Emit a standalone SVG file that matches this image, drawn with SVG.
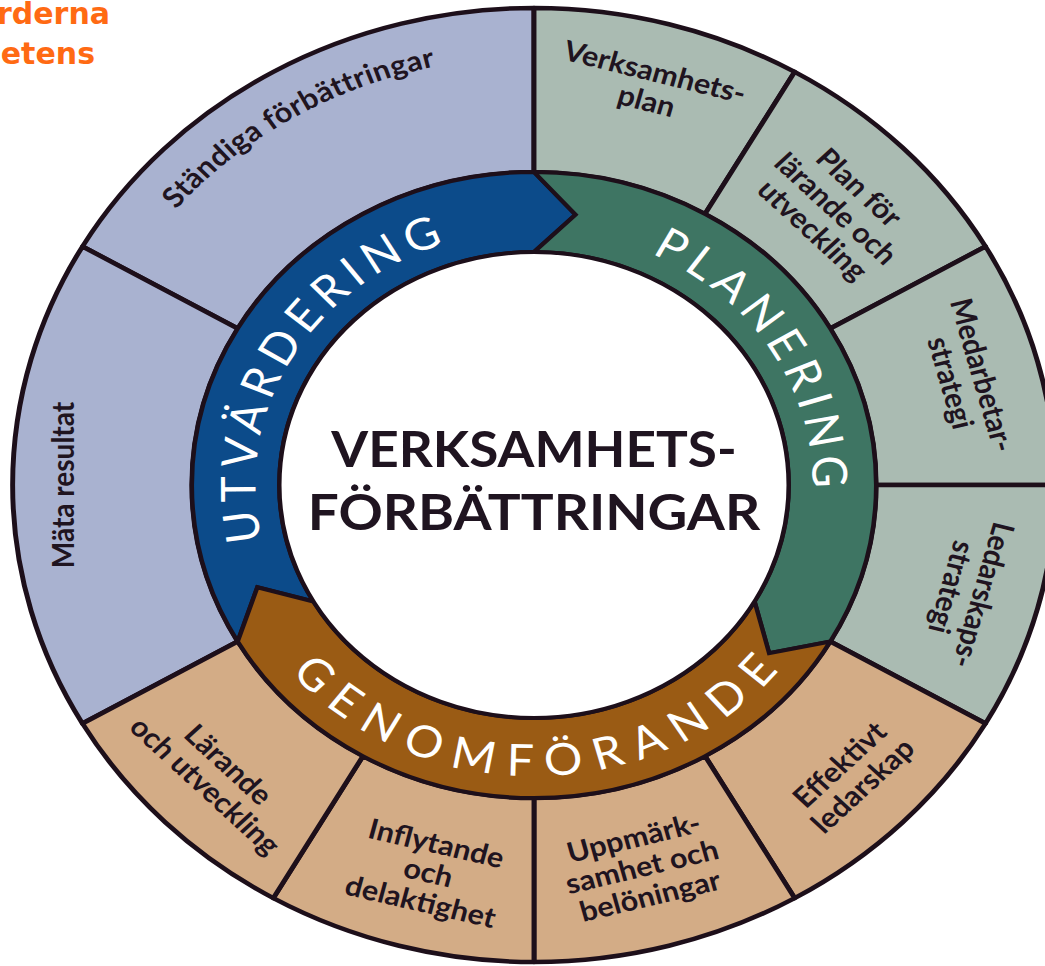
<svg xmlns="http://www.w3.org/2000/svg" width="1045" height="966" viewBox="0 0 1045 966">
<style>
.sb{fill:#A9B2D0}
.sg{fill:#AABBB2}
.st{fill:#D3AC86}
.seg{stroke:#1D0F1A;stroke-width:4.5;stroke-linejoin:round}
.band{stroke:#1D0F1A;stroke-width:4;stroke-linejoin:miter}
.lbl{font-family:Lato,"Open Sans",sans-serif;font-weight:700;font-size:28px;fill:#1F1420;text-anchor:middle}
.ring{font-family:Lato,"Open Sans",sans-serif;font-weight:400;font-size:44px;fill:#FFFFFF}
.ctr{font-family:Lato,"Open Sans",sans-serif;font-weight:700;font-size:50px;fill:#1F1420;text-anchor:middle}
.ttl{font-family:"DejaVu Sans",Verdana,sans-serif;font-weight:700;font-size:30px;fill:#FF6A13;text-anchor:end}
</style>
<defs>
<path id="pStand" d="M -415.3 -103.5 A 428 428 0 0 1 103.5 -415.3"/>
<path id="pUtv" d="M -195.3 163.9 A 255 255 0 0 1 44.3 -251.1"/>
<path id="pPlan" d="M -50.8 -249.9 A 255 255 0 0 1 199.6 158.7"/>
<path id="pGen" d="M -279.0 82.6 A 291 291 0 0 0 283.0 67.9"/>
</defs>
<rect width="1045" height="966" fill="#FFFFFF"/>
<g id="title">
<text class="ttl" x="110" y="24">rderna</text>
<text class="ttl" x="95" y="64">etens</text>
</g>
<g id="wheel" transform="translate(534,485) scale(1.093,1)">
<g id="seg-standiga">
<path class="seg sb" d="M -413.1 -238.5 A 477 477 0 0 1 0 -477 L 0 -313 A 313 313 0 0 0 -271.1 -156.5 Z"/>
<text class="lbl" letter-spacing="0.4"><textPath href="#pStand" startOffset="50%" text-anchor="middle">Ständiga förbättringar</textPath></text>
</g>
<g id="seg-mata">
<path class="seg sb" d="M -413.1 238.5 A 477 477 0 0 1 -413.1 -238.5 L -271.1 -156.5 A 313 313 0 0 0 -271.1 156.5 Z"/>
<text class="lbl" transform="translate(-430,0) rotate(-90)" y="9.2">Mäta resultat</text>
</g>
<g id="seg-verksamhetsplan">
<path class="seg sg" d="M 0 -477 A 477 477 0 0 1 238.5 -413.1 L 156.5 -271.1 A 313 313 0 0 0 0 -313 Z"/>
<text class="lbl" transform="translate(106.6,-398) rotate(15)"><tspan x="0" y="-5.8">Verksamhets-</tspan><tspan x="0" y="24.2">plan</tspan></text>
</g>
<g id="seg-planforlarande">
<path class="seg sg" d="M 238.5 -413.1 A 477 477 0 0 1 413.1 -238.5 L 271.1 -156.5 A 313 313 0 0 0 156.5 -271.1 Z"/>
<text class="lbl" transform="translate(275.8,-275.8) rotate(45)"><tspan x="0" y="-20.8">Plan för</tspan><tspan x="0" y="9.2">lärande och</tspan><tspan x="0" y="39.2">utveckling</tspan></text>
</g>
<g id="seg-medarbetar">
<path class="seg sg" d="M 413.1 -238.5 A 477 477 0 0 1 477 0 L 313 0 A 313 313 0 0 0 271.1 -156.5 Z"/>
<text class="lbl" transform="translate(395.1,-105.9) rotate(75)"><tspan x="0" y="-5.8">Medarbetar-</tspan><tspan x="0" y="24.2">strategi</tspan></text>
</g>
<g id="seg-ledarskaps">
<path class="seg sg" d="M 477 0 A 477 477 0 0 1 413.1 238.5 L 271.1 156.5 A 313 313 0 0 0 313 0 Z"/>
<text class="lbl" transform="translate(396,106.1) rotate(105)"><tspan x="0" y="-5.8">Ledarskaps-</tspan><tspan x="0" y="24.2">strategi</tspan></text>
</g>
<g id="seg-effektivt">
<path class="seg st" d="M 413.1 238.5 A 477 477 0 0 1 238.5 413.1 L 156.5 271.1 A 313 313 0 0 0 271.1 156.5 Z"/>
<text class="lbl" transform="translate(290.6,290.6) rotate(-45)"><tspan x="0" y="-5.8">Effektivt</tspan><tspan x="0" y="24.2">ledarskap</tspan></text>
</g>
<g id="seg-uppmarksamhet">
<path class="seg st" d="M 238.5 413.1 A 477 477 0 0 1 0 477 L 0 313 A 313 313 0 0 0 156.5 271.1 Z"/>
<text class="lbl" transform="translate(98.9,382.4) rotate(-14.5)"><tspan x="0" y="-20.8">Uppmärk-</tspan><tspan x="0" y="9.2">samhet och</tspan><tspan x="0" y="39.2">belöningar</tspan></text>
</g>
<g id="seg-inflytande">
<path class="seg st" d="M 0 477 A 477 477 0 0 1 -238.5 413.1 L -156.5 271.1 A 313 313 0 0 0 0 313 Z"/>
<text class="lbl" transform="translate(-96.8,388.1) rotate(14)"><tspan x="0" y="-20.8">Inflytande</tspan><tspan x="0" y="9.2">och</tspan><tspan x="0" y="39.2">delaktighet</tspan></text>
</g>
<g id="seg-larande">
<path class="seg st" d="M -238.5 413.1 A 477 477 0 0 1 -413.1 238.5 L -271.1 156.5 A 313 313 0 0 0 -156.5 271.1 Z"/>
<text class="lbl" transform="translate(-290.6,290.6) rotate(45)"><tspan x="0" y="-5.8">Lärande</tspan><tspan x="0" y="24.2">och utveckling</tspan></text>
</g>
<g id="connectors">
<g id="arrow-utvardering">
<path class="band" fill="#0C4B8A" d="M 0 -313 L 38 -270.3 L 0 -233 A 233 233 0 0 0 -201.8 116.5 L -253.1 102.3 L -271.1 156.5 A 313 313 0 0 1 0 -313 Z"/>
<text class="ring" letter-spacing="6.5"><textPath href="#pUtv" startOffset="50%" text-anchor="middle">UTVÄRDERING</textPath></text>
</g>
<g id="arrow-planering">
<path class="band" fill="#3E7563" d="M 0 -313 A 313 313 0 0 1 271.1 156.5 L 215.1 168.1 L 201.8 116.5 A 233 233 0 0 0 0 -233 L 38 -270.3 Z"/>
<text class="ring" letter-spacing="6.2"><textPath href="#pPlan" startOffset="50%" text-anchor="middle">PLANERING</textPath></text>
</g>
<g id="arrow-genomforande">
<path class="band" fill="#9A5B14" d="M 271.1 156.5 A 313 313 0 0 1 -271.1 156.5 L -253.1 102.3 L -201.8 116.5 A 233 233 0 0 0 201.8 116.5 L 215.1 168.1 Z"/>
<text class="ring" letter-spacing="12"><textPath href="#pGen" startOffset="50%" text-anchor="middle">GENOMFÖRANDE</textPath></text>
</g>
</g>
<g id="center">
<circle r="233" fill="#FFFFFF" stroke="#1D0F1A" stroke-width="4"/>
<text class="ctr" x="0" y="-18" textLength="371" lengthAdjust="spacingAndGlyphs">VERKSAMHETS-</text>
<text class="ctr" x="0" y="45" textLength="414" lengthAdjust="spacingAndGlyphs">FÖRBÄTTRINGAR</text>
</g>
</g>
</svg>
